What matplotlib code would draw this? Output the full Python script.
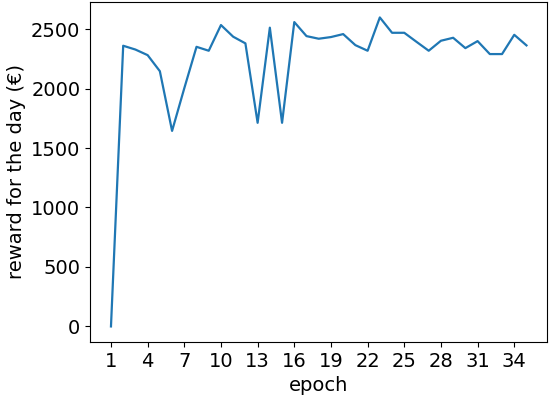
import matplotlib
matplotlib.use("Agg")
import matplotlib.pyplot as plt

# reward per epoch
epochs = list(range(1, 36))
reward = [0, 2360, 2328, 2281, 2146, 1644, 2003, 2351, 2318, 2534,
          2436, 2380, 1712, 2512, 1712, 2559, 2441, 2419, 2433, 2458,
          2365, 2318, 2598, 2469, 2469, 2393, 2318, 2402, 2427, 2340,
          2399, 2290, 2290, 2452, 2363]
xticks = list(range(1, 35, 3))

plt.rcParams['font.size'] = 14
fig = plt.figure(figsize=(5.5, 3.98), dpi=100)
ax = fig.add_axes([0.164, 0.141, 0.831, 0.854])
ax.plot(epochs, reward, color='#1f77b4', linewidth=1.6)
ax.set_xticks(xticks)
ax.set_xlabel('epoch')
ax.set_ylabel('reward for the day (€)')
fig.savefig('out.png', dpi=100)
